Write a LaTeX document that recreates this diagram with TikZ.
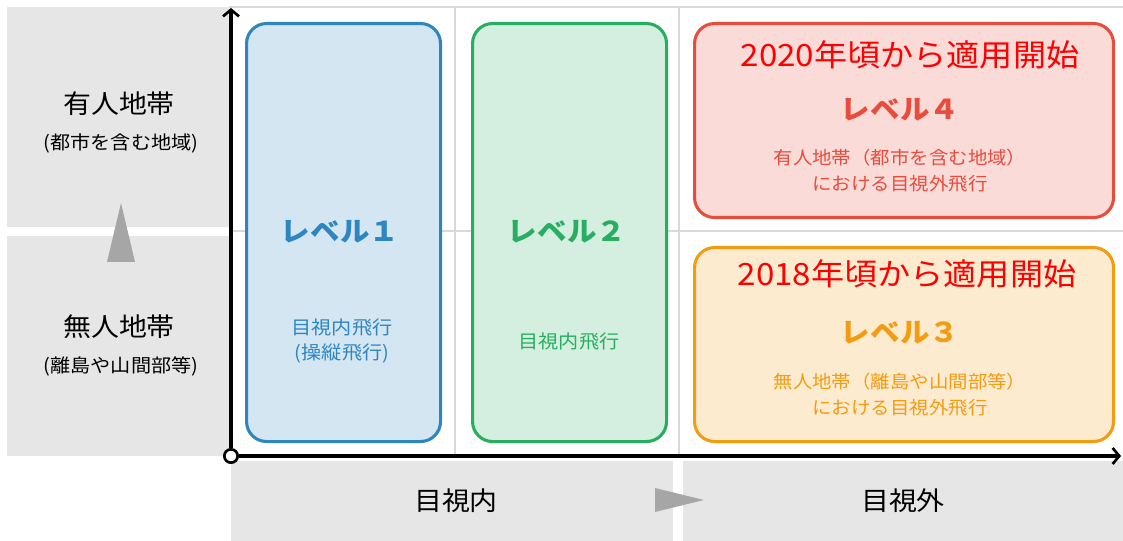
\documentclass[tikz,border=0pt]{standalone}
\usepackage{fontspec}
\setmainfont[FakeStretch=1.08]{Noto Sans CJK JP}
\usetikzlibrary{arrows.meta}
\definecolor{panelgray}{HTML}{E6E6E6}
\definecolor{gridgray}{HTML}{D9D9D9}
\definecolor{trigray}{HTML}{A6A6A6}
\definecolor{bluel}{HTML}{2E86C1}
\definecolor{bluef}{HTML}{D4E6F1}
\definecolor{greenl}{HTML}{27AE60}
\definecolor{greenf}{HTML}{D4EFDF}
\definecolor{redl}{HTML}{E74C3C}
\definecolor{redf}{HTML}{FADBD8}
\definecolor{orangel}{HTML}{F39C12}
\definecolor{orangef}{HTML}{FDEBD0}
\definecolor{pure}{HTML}{FF0000}
\begin{document}
\begin{tikzpicture}[x=0.75pt,y=-0.75pt,
  gridline/.style={draw=gridgray, line width=2.2pt},
  lvbox/.style={rounded corners=15pt, line width=2.3pt, inner sep=0pt, anchor=north west},
  tallbox/.style={lvbox, minimum width=145.5pt, minimum height=313.5pt},
  widebox/.style={lvbox, minimum width=314.25pt, minimum height=145.5pt},
  axisline/.style={line width=2.3pt, -{Straight Barb[length=5pt,width=12pt,line width=2pt]}},
  lvtitle/.style={font=\fontsize{20.5}{24}\selectfont\bfseries, inner sep=0pt},
  smalltext/.style={font=\fontsize{13.5}{19.5}\selectfont, align=center, inner sep=0pt},
  heading/.style={font=\fontsize{23}{27}\selectfont, text=pure, inner sep=0pt},
  biglabel/.style={font=\fontsize{19.4}{23}\selectfont, inner sep=0pt},
  sublabel/.style={font=\fontsize{14}{17}\selectfont, inner sep=0pt}
]
\useasboundingbox (0,0) rectangle (1123,541);
% gray panels
\fill[panelgray] (7,7) rectangle (229,227);
\fill[panelgray] (7,236) rectangle (229,456);
\fill[panelgray] (231,461) rectangle (673,541);
\fill[panelgray] (683,461) rectangle (1123,541);
% grid
\draw[gridline] (229,7) -- (1123,7);
\draw[gridline] (229,231) -- (1123,231);
\draw[gridline] (455,7) -- (455,456);
\draw[gridline] (679,7) -- (679,456);
% triangles
\fill[trigray] (107,262) -- (135,262) -- (121,203) -- cycle;
\fill[trigray] (655,488) -- (655,512) -- (704,500) -- cycle;
% level boxes
\node[tallbox, draw=bluel, fill=bluef] (b1) at (245,22) {};
\node[tallbox, draw=greenl, fill=greenf] (b2) at (471,22) {};
\node[widebox, draw=redl, fill=redf] (b4) at (693,22) {};
\node[widebox, draw=orangel, fill=orangef] (b3) at (693,246) {};
% axes
\coordinate (ytip) at (231,8);
\coordinate (xtip) at (1121,456);
\node[circle, draw, fill=white, line width=2pt, minimum size=10pt, inner sep=0pt] (o) at (231,456) {};
\draw[axisline] (o) -- (ytip);
\draw[axisline] (o) -- (xtip);
% left labels
\node[biglabel] (yu) at (119,104) {有人地帯};
\node[sublabel] (yus) at (121,143) {(都市を含む地域)};
\node[biglabel] (mu) at (119,327) {無人地帯};
\node[sublabel] (mus) at (121,366) {(離島や山間部等)};
% bottom labels
\node[biglabel] (xin) at (456,501) {目視内};
\node[biglabel] (xout) at (903,501) {目視外};
% level 1
\node[lvtitle, text=bluel] (t1) at (340,232) {レベル１};
\node[smalltext, text=bluel, font=\fontsize{14}{19}\selectfont] (d1) at (342,341) {目視内飛行\\(操縦飛行)};
% level 2
\node[lvtitle, text=greenl] (t2) at (567,232) {レベル２};
\node[smalltext, text=greenl, font=\fontsize{14}{19}\selectfont] (d2) at (569,341) {目視内飛行};
% level 4
\node[heading] (h4) at (910,55) {2020年頃から適用開始};
\node[lvtitle, text=redl] (t4) at (900,110) {レベル４};
\node[smalltext, text=redl] (d4) at (900,171) {有人地帯（都市を含む地域）\\における目視外飛行};
% level 3
\node[heading] (h3) at (907,274) {2018年頃から適用開始};
\node[lvtitle, text=orangel] (t3) at (900,333) {レベル３};
\node[smalltext, text=orangel] (d3) at (900,395) {無人地帯（離島や山間部等）\\における目視外飛行};
\end{tikzpicture}
\end{document}
